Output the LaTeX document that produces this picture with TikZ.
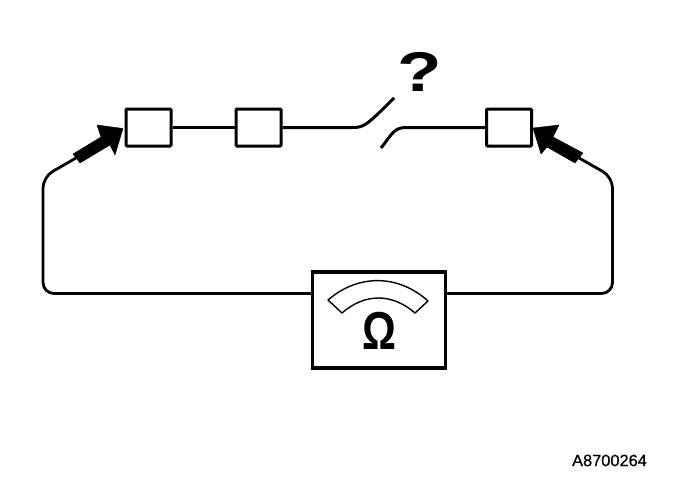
\documentclass[tikz,border=0pt]{standalone}
\usepackage{fontspec}
\setmainfont{Liberation Sans}
\newfontfamily\labfont[FakeBold=0.6]{Liberation Sans}
\tikzset{
  fusebox/.style={draw=black,line width=3pt,fill=white,minimum width=45pt,minimum height=37pt,inner sep=0pt,rounded corners=1pt},
  meterbox/.style={draw=black,line width=3.2pt,fill=white,minimum width=133pt,minimum height=96pt,inner sep=0pt},
  wire/.style={draw=black,line width=3pt},
  thinwire/.style={draw=black,line width=2.8pt,rounded corners=11pt},
  probe/.style={fill=black,draw=black,line width=.4pt,line join=round},
  dial/.style={draw=black,line width=1.4pt,fill=white,line join=round},
}
\begin{document}
\begin{tikzpicture}[x=1pt,y=-1pt]
\useasboundingbox (0,0) rectangle (688,488);
\node[fusebox] (a) at (148.5,127.5) {};
\node[fusebox] (b) at (258.5,127.5) {};
\node[fusebox] (c) at (509,127.5) {};
\node[meterbox] (m) at (379,320) {};
\coordinate (s1) at (394,98);
\coordinate (s2) at (381,148);
\coordinate (lt) at (76,158);
\coordinate (rt) at (579,158);
% wires
\draw[wire] (a.east) -- (b.west);
\draw[wire] (b.east) -- (352,127.5) .. controls (364,127.5) and (366,126) .. (s1);
\draw[wire] (s2) .. controls (392,134) and (394,127.5) .. (406,127.5) -- (c.west);
\draw[thinwire] (lt) -- (43,177) -- (43,293.5) -- (m.west |- 0,293.5);
\draw[thinwire] (rt) -- (612.5,177) -- (612.5,293.5) -- (m.east |- 0,293.5);
% probes
\fill[probe] (123,128.5) -- (97,125) -- (101,137) -- (73,154) -- (80,163) -- (110,145) -- (115,155) -- cycle;
\fill[probe] (533,128) -- (559,125) -- (553,137) -- (583,153) -- (575,163) -- (547,147) -- (541,154) -- cycle;
% dial
\draw[dial] (328,300) .. controls (358,274) and (398,274) .. (428,301)
  -- (415,313) .. controls (392,293) and (365,293) .. (342,313) -- cycle;
\node[inner sep=0pt,xscale=.92,yscale=1.16] (om) at (379,330.5) {\fontsize{46}{46}\selectfont\bfseries Ω};
\node[inner sep=0pt,xscale=1.3] (q) at (420,72) {\fontsize{56}{56}\selectfont\bfseries ?};
\node[inner sep=0pt] (id) at (609.5,460.5) {\fontsize{16.4}{16.4}\labfont A8700264};
\end{tikzpicture}
\end{document}
